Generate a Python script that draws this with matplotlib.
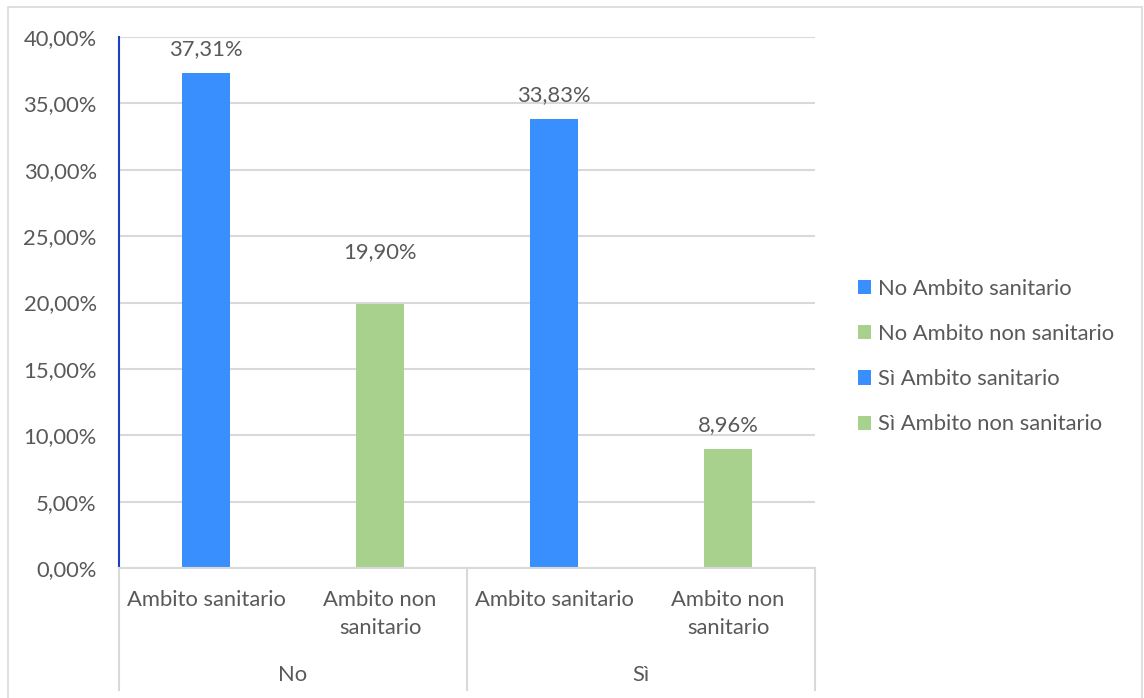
import matplotlib
matplotlib.use("Agg")
import matplotlib.pyplot as plt
from matplotlib.patches import Rectangle, Patch
from matplotlib.lines import Line2D
import matplotlib.transforms as mtransforms

groups = ["No", "Sì"]
subcats = ["Ambito sanitario", "Ambito non\nsanitario"]
values = [37.31, 19.90, 33.83, 8.96]
labels = ["37,31%", "19,90%", "33,83%", "8,96%"]
series_names = ["No Ambito sanitario", "No Ambito non sanitario",
                "Sì Ambito sanitario", "Sì Ambito non sanitario"]
yticks = [0, 5, 10, 15, 20, 25, 30, 35, 40]
ytick_labels = ["0,00%", "5,00%", "10,00%", "15,00%", "20,00%",
                "25,00%", "30,00%", "35,00%", "40,00%"]

BLUE = "#3A8FFF"
GREEN = "#A9D18E"
colors = [BLUE, GREEN, BLUE, GREEN]
TXT = "#595959"
GRID = "#D9D9D9"
FONT = "Lato"
FS = 15.8

plt.rcParams["font.family"] = [FONT, "DejaVu Sans"]

W, H = 1144, 698
fig = plt.figure(figsize=(W / 100, H / 100), dpi=100)
fig.patches.append(Rectangle((8 / W, -0.05), (1142 - 8) / W, 1.05 - 7 / H,
                             transform=fig.transFigure, fill=False,
                             edgecolor="#D9D9D9", linewidth=1.2))

left, right, top, bottom = 119 / W, 815 / W, 1 - 37 / H, 1 - 568 / H
ax = fig.add_axes([left, bottom, right - left, top - bottom])

x = list(range(len(values)))
ax.bar(x, values, width=0.276, color=colors, zorder=3)
ax.set_xlim(-0.5, len(values) - 0.5)
ax.set_ylim(0, 40)
ax.set_yticks(yticks)
ax.set_yticklabels(ytick_labels, fontsize=FS, color=TXT)
ax.tick_params(axis="y", length=0, pad=16)
ax.set_xticks([])
ax.grid(axis="y", color=GRID, linewidth=1.5, zorder=0)
for s in ["top", "right", "bottom"]:
    ax.spines[s].set_visible(False)
ax.spines["left"].set_color("#1F3FBF")
ax.spines["left"].set_linewidth(1.5)
ax.spines["left"].set_zorder(4)

# data labels (the 2nd one sits higher in the original)
label_offsets = [10, 30, 10, 10]
for xi, v, lab, off in zip(x, values, labels, label_offsets):
    ax.annotate(lab, (xi, v), xytext=(0, off), textcoords="offset points",
                ha="center", va="bottom", fontsize=FS, color=TXT)

# multi-level category axis
trans = mtransforms.blended_transform_factory(ax.transData, fig.transFigure)
def fy(py):
    return 1 - py / H
ax_line_y = fy(568)
line_bottom = fy(690)
fig.add_artist(Line2D([left, right], [ax_line_y, ax_line_y],
                      transform=fig.transFigure, color=GRID, linewidth=1.5))
for xs in [-0.5, 1.5, 3.5]:
    fig.add_artist(Line2D([xs, xs], [ax_line_y, line_bottom], transform=trans,
                          color=GRID, linewidth=1.5))
for gi, g in enumerate(groups):
    for si, sc in enumerate(subcats):
        xi = gi * len(subcats) + si
        fig.text(xi, fy(590), sc, transform=trans, ha="center", va="top",
                 fontsize=FS, color=TXT, linespacing=1.5)
    fig.text(gi * 2 + 0.5, fy(675), g, transform=trans, ha="center",
             va="center", fontsize=FS, color=TXT)

handles = [Patch(facecolor=c, edgecolor="none") for c in colors]
leg = fig.legend(handles, series_names, loc="center left",
                 bbox_to_anchor=(838 / W, 1 - 356.5 / H), frameon=False,
                 fontsize=FS, labelcolor=TXT, handlelength=0.62,
                 handleheight=0.62, handletextpad=0.3, labelspacing=1.15)

fig.savefig("out.png", dpi=100)
